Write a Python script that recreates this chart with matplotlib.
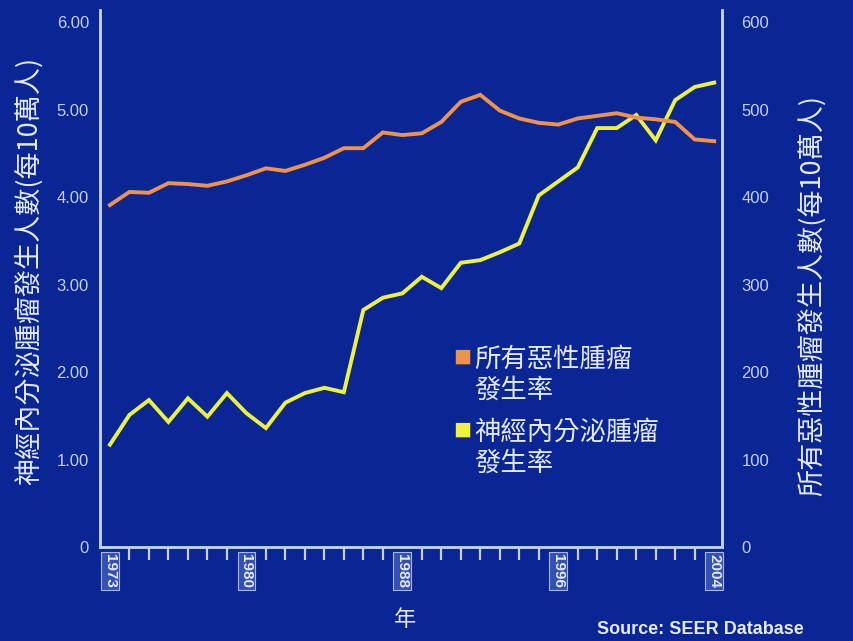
import numpy as np
import matplotlib
matplotlib.use('Agg')
import matplotlib.pyplot as plt
from matplotlib.ticker import FixedLocator, MultipleLocator

plt.rcParams['font.family'] = ['Noto Sans CJK TC', 'DejaVu Sans']

years = list(range(1973, 2005))
# neuroendocrine tumour incidence, left axis (per 100,000)
net_rate = [1.17, 1.51, 1.68, 1.43, 1.70, 1.49, 1.76, 1.53, 1.36, 1.65,
            1.76, 1.82, 1.77, 2.71, 2.85, 2.90, 3.09, 2.96, 3.25, 3.28,
            3.37, 3.47, 4.02, 4.18, 4.34, 4.79, 4.79, 4.94, 4.65, 5.11,
            5.26, 5.31]
# all malignant tumours incidence, right axis (per 100,000)
all_rate = [391, 406, 405, 416, 415, 413, 418, 425, 433, 430,
            437, 445, 456, 456, 474, 471, 473, 486, 509, 517,
            499, 490, 485, 483, 490, 493, 496, 491, 489, 486,
            466, 464]
label_years = [1973, 1980, 1988, 1996, 2004]
left_ticks = [0, 1, 2, 3, 4, 5, 6]
left_labels = ['0', '1.00', '2.00', '3.00', '4.00', '5.00', '6.00']
right_ticks = [0, 100, 200, 300, 400, 500, 600]

BG = '#0a2594'
LIGHT = '#c4d0f4'
TEXT = '#e4eaff'
ORANGE = '#f0924a'
YELLOW = '#eef23a'
NUM_FONT = ['Liberation Sans Narrow', 'Liberation Sans', 'DejaVu Sans']

fig = plt.figure(figsize=(8.54, 6.41), dpi=100, facecolor=BG)
ax = fig.add_axes([100 / 854, 1 - 547 / 641, 622 / 854, 537 / 641])
ax.set_facecolor(BG)
ax2 = ax.twinx()

ax.plot(years, net_rate, color=YELLOW, lw=2.8, solid_joinstyle='miter', zorder=3)
ax2.plot(years, all_rate, color=ORANGE, lw=2.8, solid_joinstyle='miter', zorder=3)

ax.set_xlim(1972.49, 2004.4)
ax.set_ylim(0, 6.14)
ax2.set_ylim(0, 614)

for a in (ax, ax2):
    a.spines['top'].set_visible(False)
    for s in ('left', 'right', 'bottom'):
        a.spines[s].set_color(LIGHT)
        a.spines[s].set_linewidth(1.8)

ax.set_yticks(left_ticks)
ax.set_yticklabels(left_labels)
ax2.set_yticks(right_ticks)
ax.tick_params(axis='y', length=0, pad=8, colors=LIGHT, labelsize=12)
ax2.tick_params(axis='y', length=0, pad=14, colors=LIGHT, labelsize=12)
for t in ax.get_yticklabels() + ax2.get_yticklabels():
    t.set_family(NUM_FONT)

ax.xaxis.set_major_locator(FixedLocator(label_years))
ax.xaxis.set_minor_locator(MultipleLocator(1))
ax.tick_params(axis='x', which='major', length=0, pad=5, colors=TEXT, labelsize=11)
ax.tick_params(axis='x', which='minor', length=9, width=1.6, color=LIGHT, direction='out')
ax.set_xticklabels([str(y) for y in label_years], rotation=-90, family=NUM_FONT,
                   va='top', ha='center', fontweight='bold')
for t in ax.get_xticklabels():
    t.set_bbox(dict(boxstyle='square,pad=0.12', fc='#3350b2', ec='#a8b8ea', lw=0.8))

ax.set_ylabel('神經內分泌腫瘤發生人數(每10萬人)', color=TEXT, fontsize=19.5, va='center')
ax2.set_ylabel('所有惡性腫瘤發生人數(每10萬人)', color=TEXT, fontsize=19.5, va='center')
ax.yaxis.set_label_coords(-0.114, 0.514)
ax2.yaxis.set_label_coords(1.145, 0.469)

# legend drawn as text blocks
fig.text(462 / 854, 1 - 359 / 641, '■', color=ORANGE, fontsize=13, ha='center', va='center')
fig.text(474 / 854, 1 - 359 / 641, '所有惡性腫瘤', color=TEXT, fontsize=19, va='center')
fig.text(474 / 854, 1 - 390 / 641, '發生率', color=TEXT, fontsize=19, va='center')
fig.text(462 / 854, 1 - 432 / 641, '■', color=YELLOW, fontsize=13, ha='center', va='center')
fig.text(474 / 854, 1 - 432 / 641, '神經內分泌腫瘤', color=TEXT, fontsize=19, va='center')
fig.text(474 / 854, 1 - 463 / 641, '發生率', color=TEXT, fontsize=19, va='center')

fig.text(405 / 854, 1 - 620 / 641, '年', color=TEXT, fontsize=16, ha='center', va='center')
fig.text(597 / 854, 1 - 630 / 641, 'Source: SEER Database', color=TEXT, fontsize=13,
         fontweight='bold', family=NUM_FONT, va='center')

fig.savefig('out.png', dpi=100, facecolor=BG)
